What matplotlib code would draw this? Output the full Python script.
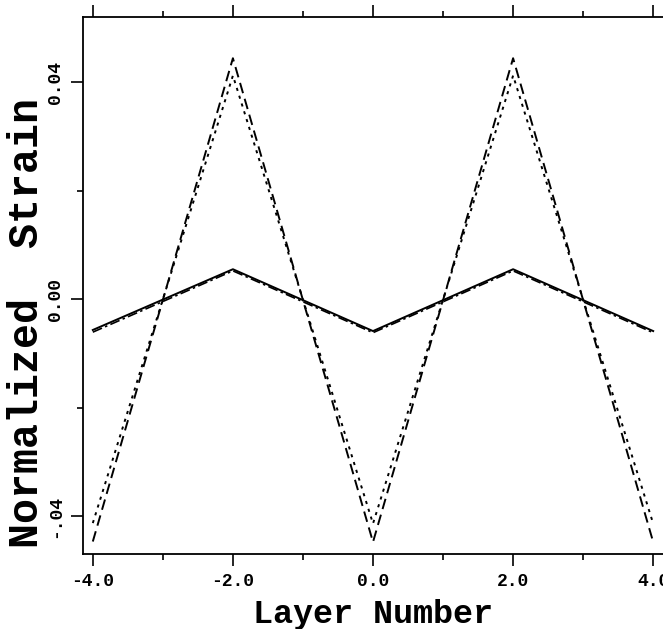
import numpy as np
from matplotlib import pyplot as plt
from matplotlib.ticker import MultipleLocator, FixedLocator

# layer positions and strain profiles
layer = [-4.0, -2.0, 0.0, 2.0, 4.0]
strain_solid = [-0.0057, 0.0055, -0.0059, 0.0055, -0.0059]
strain_dashdot = [-0.0061, 0.0052, -0.0062, 0.0052, -0.0062]
strain_dashed = [-0.0447, 0.0444, -0.0448, 0.0444, -0.0448]
strain_dotted = [-0.0413, 0.0412, -0.0414, 0.0412, -0.0414]

xticks = [-4.0, -2.0, 0.0, 2.0, 4.0]
xlabels = ["-4.0", "-2.0", "0.0", "2.0", "4.0"]
yticks = [-0.04, 0.0, 0.04]
ylabels = ["-.04", "0.00", "0.04"]

plt.rcParams['font.family'] = ['Liberation Mono', 'DejaVu Sans Mono']
plt.rcParams['font.weight'] = 'bold'

fig = plt.figure(figsize=(6.63, 6.29), dpi=100)
ax = fig.add_axes([83/663, 1-554/629, 580/663, (554-17)/629])

ax.plot(layer, strain_solid, '-', color='k', lw=1.4)
ax.plot(layer, strain_dashdot, color='k', lw=1.2, dashes=(6, 2, 1.5, 2))
ax.plot(layer, strain_dashed, color='k', lw=1.4, dashes=(5.5, 3))
ax.plot(layer, strain_dotted, color='k', lw=1.4, dashes=(1.6, 2.6))

ax.set_xlim(-4.14, 4.14)
ax.set_ylim(-0.047, 0.052)

ax.xaxis.set_major_locator(FixedLocator(xticks))
ax.set_xticklabels(xlabels, fontsize=13, fontweight='bold')
ax.xaxis.set_minor_locator(MultipleLocator(1.0))
ax.yaxis.set_major_locator(FixedLocator(yticks))
ax.set_yticklabels(ylabels, fontsize=13, fontweight='bold', rotation=90, va='center')
ax.yaxis.set_minor_locator(MultipleLocator(0.02))

ax.tick_params(which='major', direction='out', length=8.5, width=1.2, pad=5,
               top=True, right=False)
ax.tick_params(which='minor', direction='out', length=4.3, width=1.2,
               top=True, right=False)
ax.tick_params(axis='y', pad=5)

ax.spines['right'].set_visible(False)
for s in ['left', 'top', 'bottom']:
    ax.spines[s].set_linewidth(1.3)

ax.set_xlabel("Layer Number", fontsize=24, fontweight='bold')
ax.xaxis.set_label_coords(0.5, -0.083)
ax.set_ylabel("Normalized  Strain", fontsize=30, fontweight='bold')
ax.yaxis.set_label_coords(-0.062, 0.43)

fig.savefig("out.png", dpi=100)
